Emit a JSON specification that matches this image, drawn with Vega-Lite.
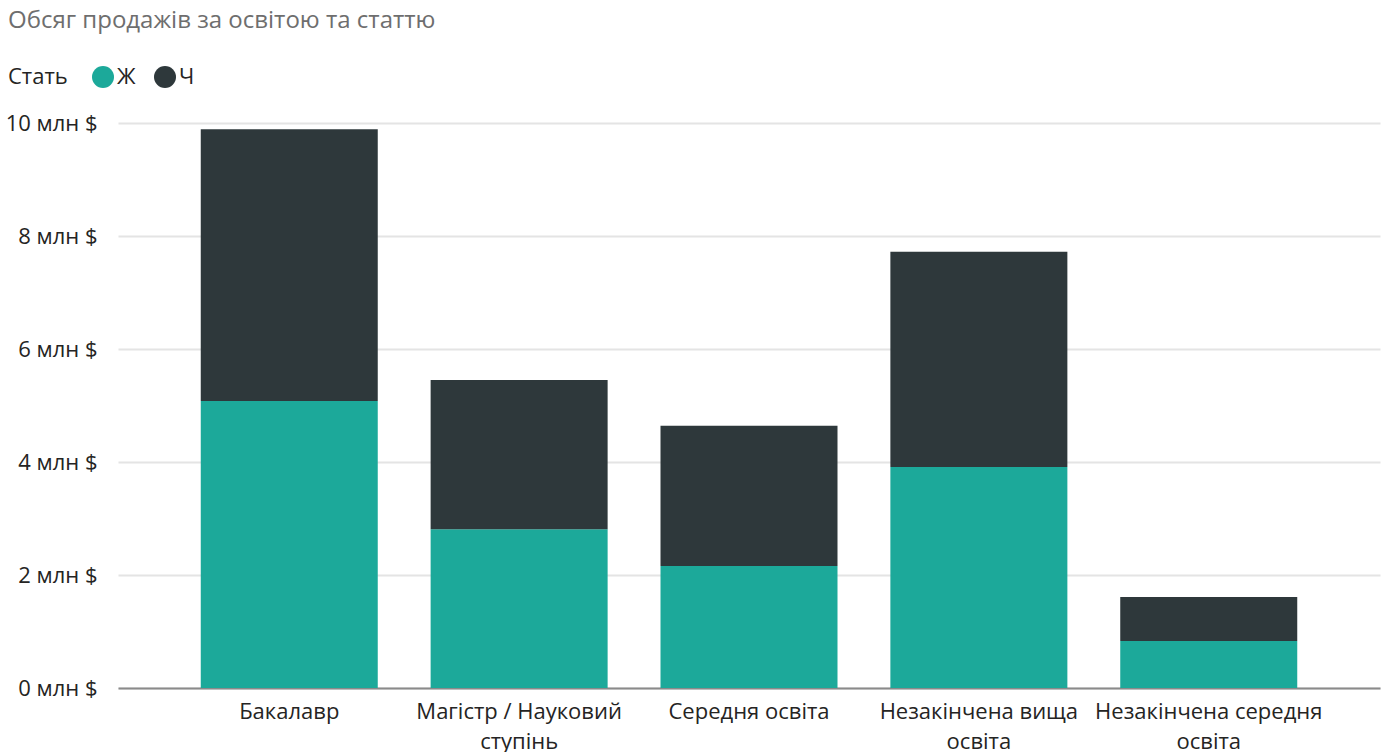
{
  "$schema": "https://vega.github.io/schema/vega-lite/v6.json",
  "autosize": {"type": "none"},
  "width": 1262,
  "height": 565,
  "padding": {"left": 118, "top": 123, "right": 7, "bottom": 64},
  "background": "white",
  "title": {
    "text": "Обсяг продажів за освітою та статтю",
    "anchor": "start",
    "frame": "group",
    "orient": "top",
    "offset": 33,
    "dx": -110,
    "font": "Open Sans",
    "fontSize": 24,
    "fontWeight": "normal",
    "color": "#6E6E6E"
  },
  "config": {
    "view": {"stroke": null},
    "font": "Open Sans"
  },
  "data": {
    "values": [
      {"Освіта": "Бакалавр", "Стать": "Ж", "Продажі": 5080000},
      {"Освіта": "Бакалавр", "Стать": "Ч", "Продажі": 4810000},
      {"Освіта": "Магістр / Науковий ступінь", "Стать": "Ж", "Продажі": 2810000},
      {"Освіта": "Магістр / Науковий ступінь", "Стать": "Ч", "Продажі": 2640000},
      {"Освіта": "Середня освіта", "Стать": "Ж", "Продажі": 2160000},
      {"Освіта": "Середня освіта", "Стать": "Ч", "Продажі": 2480000},
      {"Освіта": "Незакінчена вища освіта", "Стать": "Ж", "Продажі": 3910000},
      {"Освіта": "Незакінчена вища освіта", "Стать": "Ч", "Продажі": 3810000},
      {"Освіта": "Незакінчена середня освіта", "Стать": "Ж", "Продажі": 830000},
      {"Освіта": "Незакінчена середня освіта", "Стать": "Ч", "Продажі": 780000}
    ]
  },
  "mark": {"type": "bar"},
  "encoding": {
    "x": {
      "field": "Освіта",
      "type": "nominal",
      "sort": null,
      "scale": {"paddingInner": 0.23, "paddingOuter": 0.36},
      "axis": {
        "title": null,
        "labelAngle": 0,
        "labelFont": "Open Sans",
        "labelFontSize": 22,
        "labelColor": "#252423",
        "labelPadding": 13,
        "labelLineHeight": 30,
        "labelLimit": 400,
        "ticks": false,
        "domain": true,
        "domainColor": "#8A8A8A",
        "domainWidth": 2,
        "labelExpr": "length(datum.label) > 16 ? [slice(datum.label, 0, lastindexof(datum.label, ' ')), slice(datum.label, lastindexof(datum.label, ' ') + 1)] : datum.label"
      }
    },
    "y": {
      "field": "Продажі",
      "type": "quantitative",
      "aggregate": "sum",
      "stack": "zero",
      "scale": {"domain": [0, 10000000], "nice": false},
      "axis": {
        "title": null,
        "values": [0, 2000000, 4000000, 6000000, 8000000, 10000000],
        "labelExpr": "format(datum.value / 1000000, 'd') + ' млн $'",
        "labelFont": "Open Sans",
        "labelFontSize": 22,
        "labelColor": "#252423",
        "labelPadding": 21,
        "ticks": false,
        "domain": false,
        "grid": true,
        "gridColor": "#E4E4E4",
        "gridWidth": 2
      }
    },
    "color": {
      "field": "Стать",
      "type": "nominal",
      "scale": {"domain": ["Ж", "Ч"], "range": ["#1CA99A", "#2E383B"]},
      "legend": {
        "orient": "none",
        "legendX": -110,
        "legendY": -57,
        "direction": "horizontal",
        "titleOrient": "left",
        "title": "Стать",
        "titleFont": "Open Sans",
        "titleFontSize": 22,
        "titleFontWeight": "normal",
        "titleColor": "#252423",
        "titlePadding": 24,
        "labelFont": "Open Sans",
        "labelFontSize": 22,
        "labelColor": "#252423",
        "labelOffset": 3,
        "columnPadding": 18,
        "symbolType": "circle",
        "symbolSize": 484,
        "symbolStrokeWidth": 0,
        "symbolOpacity": 1
      }
    },
    "order": {"field": "Стать", "sort": "ascending"}
  }
}
